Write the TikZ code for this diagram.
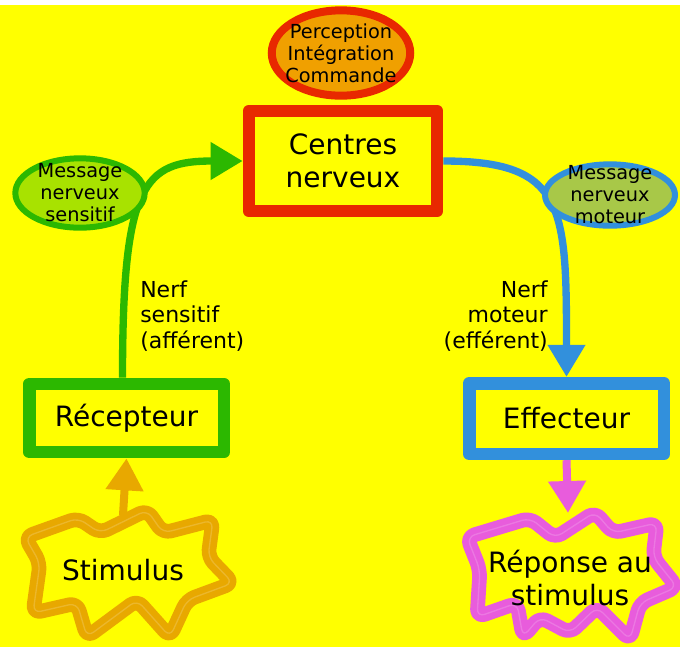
\documentclass[tikz,border=0pt]{standalone}
\usepackage{fontspec}
\setmainfont{DejaVu Sans}
\usetikzlibrary{shapes.geometric,arrows.meta}

\definecolor{jaune}{RGB}{255,255,0}
\definecolor{rouge}{RGB}{232,40,0}
\definecolor{orangefond}{RGB}{240,160,0}
\definecolor{vert}{RGB}{44,184,0}
\definecolor{vertclair}{RGB}{168,226,0}
\definecolor{bleu}{RGB}{50,144,220}
\definecolor{olive}{RGB}{168,200,72}
\definecolor{orangestim}{RGB}{232,168,0}
\definecolor{rose}{RGB}{232,92,220}

\tikzset{
  boite/.style={draw, line width=9.5pt, line join=round, inner sep=0pt,
    font=\fontsize{21}{25}\selectfont},
  bulle/.style={ellipse, inner xsep=-5pt, inner ysep=-7pt,
    font=\fontsize{14.5}{16.5}\selectfont},
  etiquette/.style={inner sep=0pt, font=\fontsize{16.5}{19}\selectfont},
  etoile/.style={draw=#1, line width=11pt, line join=round, rounded corners=6pt},
  reflet/.style={draw=#1!50!white, line width=1pt, line join=round, rounded corners=6pt, opacity=0.35},
  pointe/.style={-{Triangle[width=27pt,length=24pt]}}
}

\begin{document}
\begin{tikzpicture}[x=0.75pt,y=-0.75pt]
            \fill[jaune] (0,5) rectangle (680,647);
            \useasboundingbox (0,0) rectangle (680,647);

            % les deux etoiles
            \draw[etoile=orangestim] (25,537) -- (78,518) -- (100,533) -- (147,510) -- (163,533)
                -- (213,520) -- (208,557) -- (233,583) -- (187,600) -- (170,637) -- (137,600)
                -- (87,637) -- (77,603) -- (33,613) -- (40,563) -- cycle;
            \draw[reflet=orangestim] (25,537) -- (78,518) -- (100,533) -- (147,510) -- (163,533)
                -- (213,520) -- (208,557) -- (233,583) -- (187,600) -- (170,637) -- (137,600)
                -- (87,637) -- (77,603) -- (33,613) -- (40,563) -- cycle;
            \draw[etoile=rose] (467,537) -- (530,518) -- (555,538) -- (595,512) -- (613,533)
                -- (657,523) -- (653,557) -- (677,587) -- (640,603) -- (630,640) -- (597,607)
                -- (570,633) -- (540,617) -- (523,637) -- (517,603) -- (477,617) -- (480,570) -- cycle;
            \draw[reflet=rose] (467,537) -- (530,518) -- (555,538) -- (595,512) -- (613,533)
                -- (657,523) -- (653,557) -- (677,587) -- (640,603) -- (630,640) -- (597,607)
                -- (570,633) -- (540,617) -- (523,637) -- (517,603) -- (477,617) -- (480,570) -- cycle;

            \begin{scope}[every node/.style={text=black, align=center}]
                \node[boite, draw=rouge, minimum width=141pt, minimum height=75pt] (1) at (343,161) {Centres\\nerveux};
                \node[boite, draw=vert, minimum width=146pt, minimum height=51pt] (5) at (126.5,418) {Récepteur};
                \node[boite, draw=bleu, minimum width=146pt, minimum height=53pt] (6) at (566.5,418.5) {Effecteur};

                \node[font=\fontsize{21}{25}\selectfont] (7) at (123,570) {Stimulus};
                \node[font=\fontsize{21}{24.75}\selectfont] (8) at (570,578) {Réponse au\\stimulus};

                \node[etiquette, align=left, anchor=west] (9) at (140,316) {Nerf\\sensitif\\(afférent)};
                \node[etiquette, align=right, anchor=east] (10) at (548,316) {Nerf\\moteur\\(efférent)};
            \end{scope}

            \coordinate (11) at (123,515);
            \coordinate (12) at (568,513);

            \begin{scope}[every path/.style={line width=5.5pt}]
                \draw [pointe, vert] ([xshift=-3pt]5.north) .. controls +(0,-194) and +(-99,0) .. (1.west);
                \draw [pointe, bleu] (1.east) .. controls +(122,0) and +(0,-170) .. (6.north);
                \draw [pointe, orangestim, line width=6pt] (11) -- (5.south);
                \draw [pointe, rose, line width=6pt] (6.south) -- (12);
            \end{scope}

            \begin{scope}[every node/.style={bulle, align=center, text=black}]
                \node[draw=rouge, fill=orangefond, line width=6pt, minimum width=100.5pt, minimum height=64pt] (2) at (341,53) {Perception\\Intégration\\Commande};
                \node[draw=vert, fill=vertclair, line width=4.5pt, minimum width=97pt, minimum height=52pt] (3) at (80,193) {Message\\nerveux\\sensitif};
                \node[draw=bleu, fill=olive, line width=4.5pt, minimum width=97.5pt, minimum height=46pt] (4) at (610,195) {Message\\nerveux\\moteur};
            \end{scope}
        \end{tikzpicture}
\end{document}
